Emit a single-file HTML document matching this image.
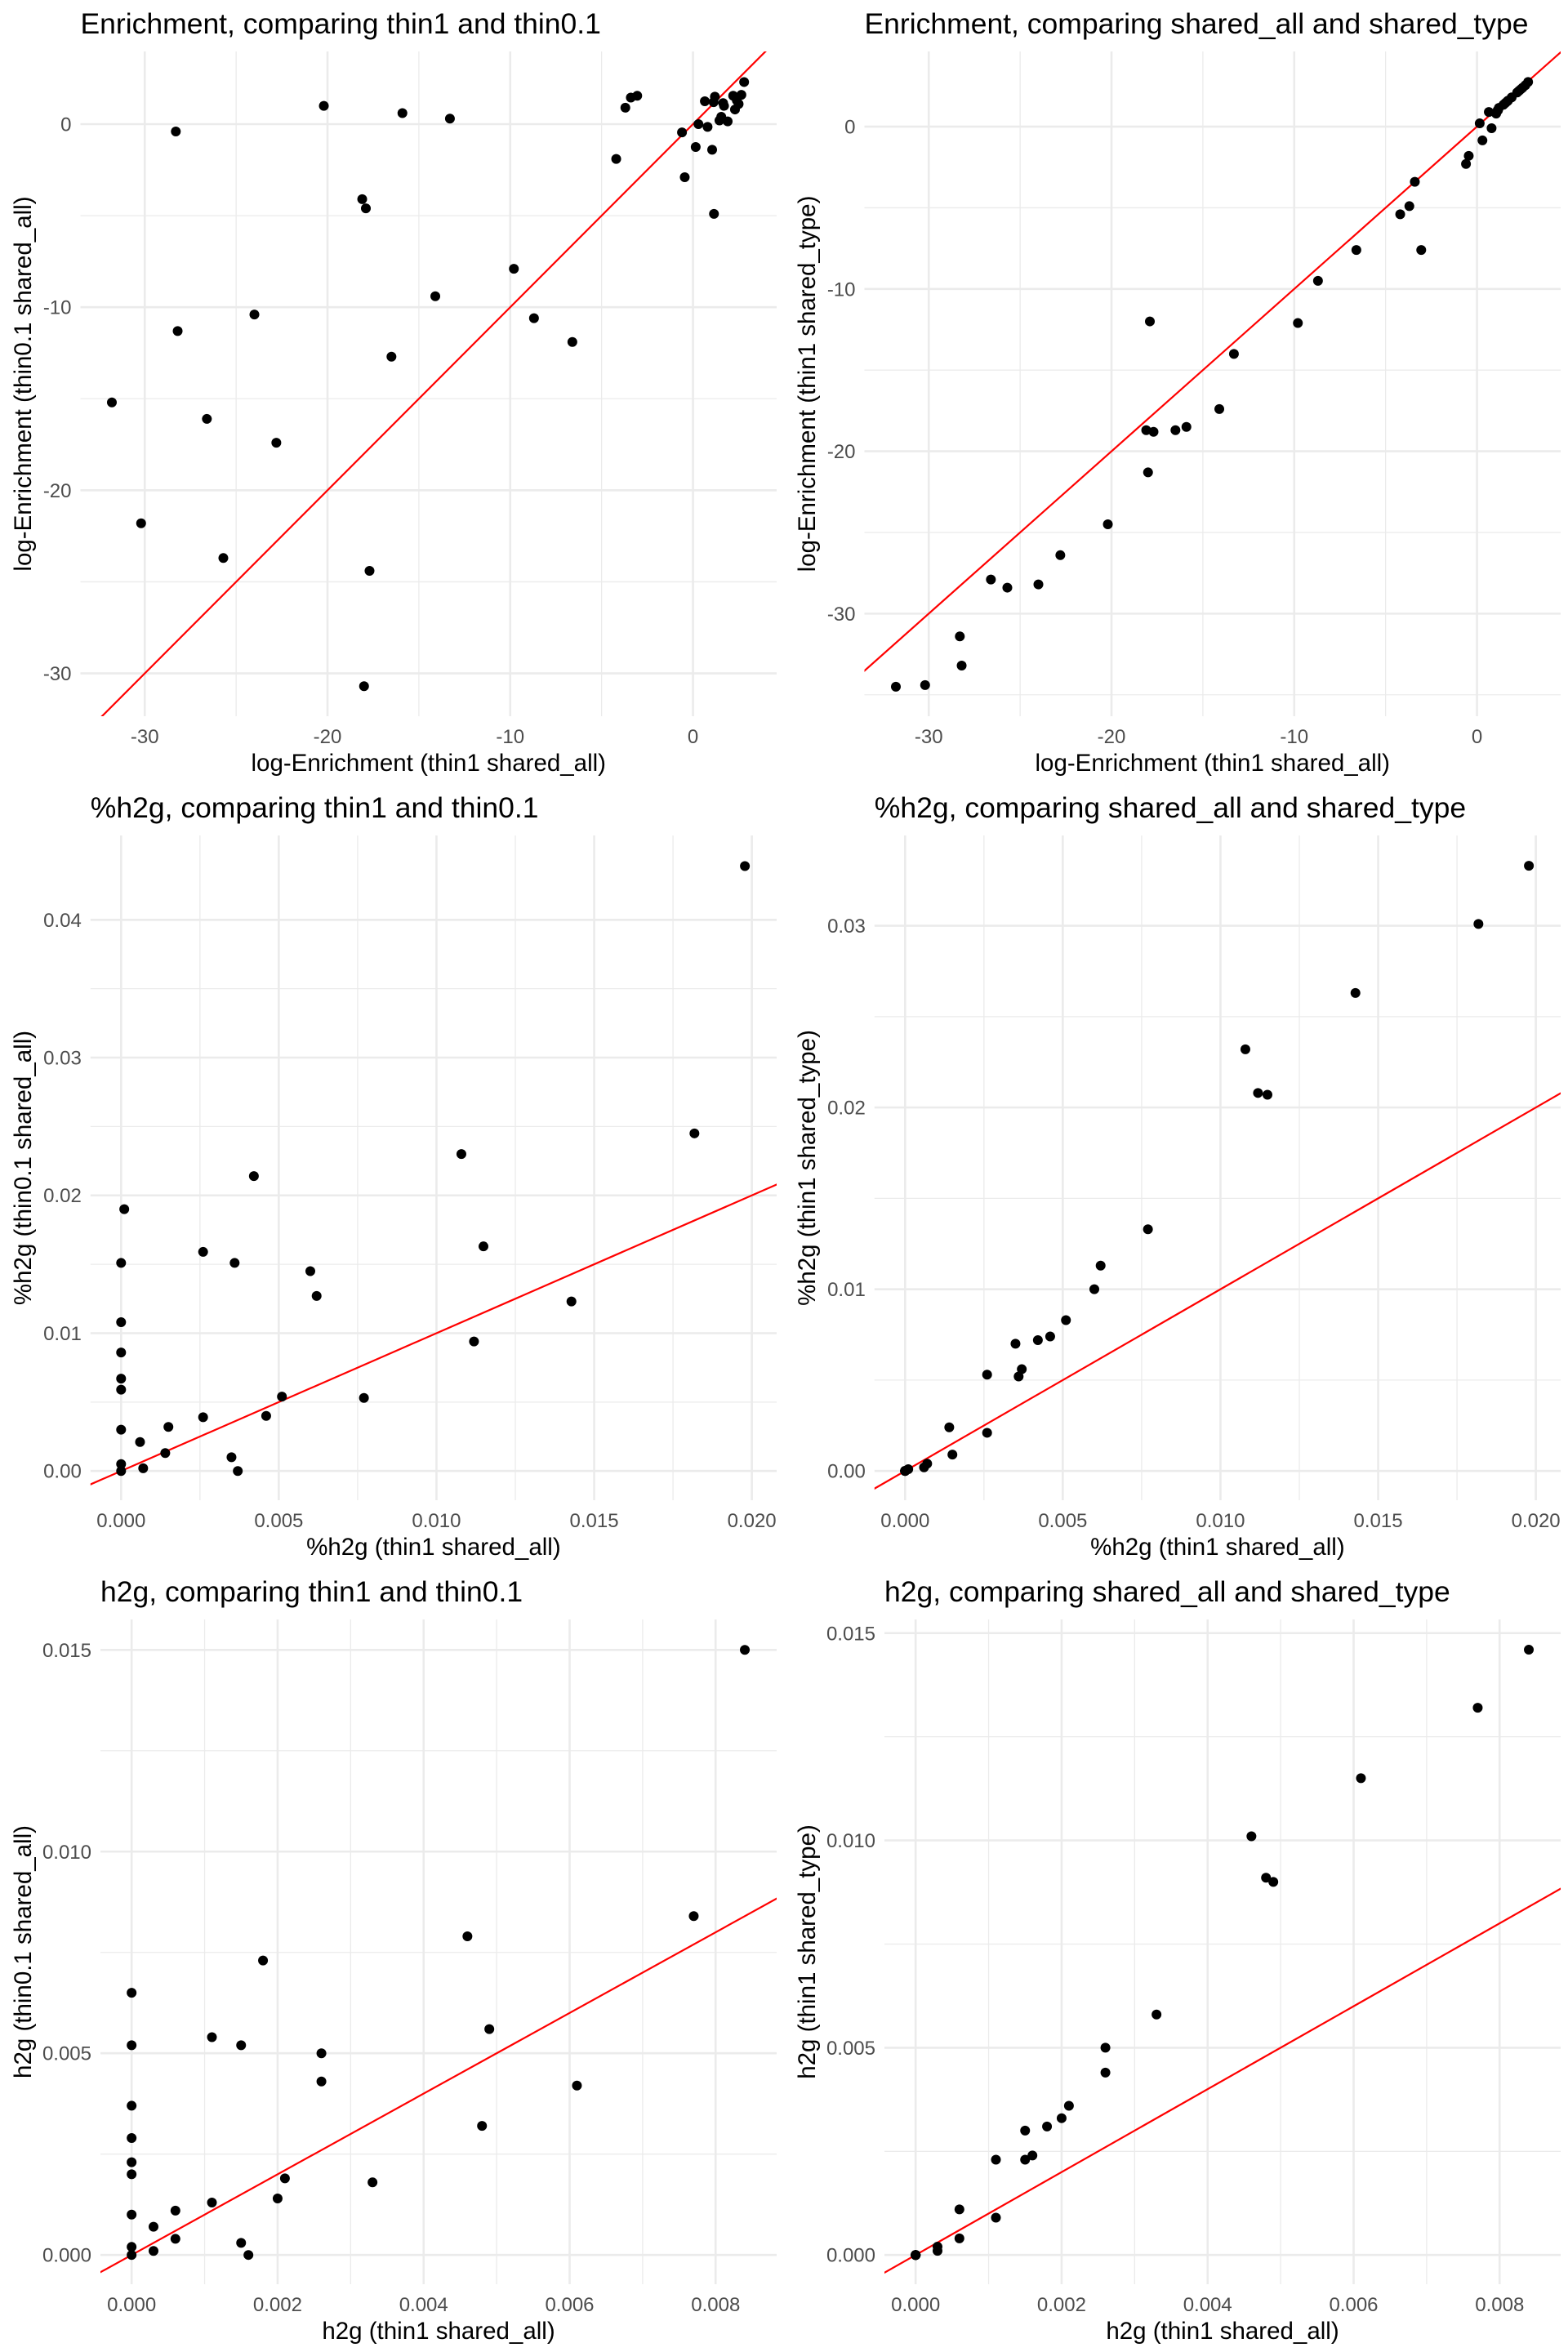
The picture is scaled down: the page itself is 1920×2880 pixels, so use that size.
<!DOCTYPE html>
<html><head><meta charset="utf-8"><style>
html,body{margin:0;padding:0;background:#fff;width:1920px;height:2880px;overflow:hidden}
svg{display:block}
text{font-family:"Liberation Sans",Arial,sans-serif}
</style></head><body>
<svg id="fig" width="1920" height="2880" viewBox="0 0 1920 2880" xmlns="http://www.w3.org/2000/svg"></svg>
<script>
// ---- Panel A: Enrichment thin1 vs thin0.1 ----
const enrichX = [-31.8,-30.2,-28.3,-28.2,-26.6,-25.7,-24.0,-22.8,-20.2,-18.1,-17.9,-18.0,-17.7,-16.5,-15.9,-14.1,-13.3,-9.8,-8.7,-6.6,-4.2,-3.7,-3.4,-3.05,-0.6,-0.45,0.15,0.3,0.65,0.8,1.05,1.15,1.13,1.2,1.45,1.55,1.65,1.7,1.9,2.2,2.3,2.4,2.5,2.65,2.8];
const enrichThin01 = [-15.2,-21.8,-0.4,-11.3,-16.1,-23.7,-10.4,-17.4,1.0,-4.1,-4.6,-30.7,-24.4,-12.7,0.6,-9.4,0.3,-7.9,-10.6,-11.9,-1.9,0.9,1.45,1.55,-0.45,-2.9,-1.25,0,1.25,-0.15,-1.4,-4.9,1.2,1.5,0.2,0.4,1.15,1.0,0.15,1.55,0.8,1.3,1.1,1.6,2.3];
// ---- Panel B: Enrichment shared_all vs shared_type ----
const enrichType = [-34.5,-34.4,-31.4,-33.2,-27.9,-28.4,-28.2,-26.4,-24.5,-18.7,-12.0,-21.3,-18.8,-18.7,-18.5,-17.4,-14.0,-12.1,-9.5,-7.6,-5.4,-4.9,-3.4,-7.6,-2.3,-1.8,0.2,-0.85,0.9,-0.1,0.8,1.0,1.0,1.15,1.35,1.45,1.55,1.6,1.8,2.1,2.2,2.3,2.4,2.55,2.75];
// ---- Panel C/D: %h2g ----
const pctX = [0.01978,0.01818,0.01079,0.01149,0.01428,0.01119,0.00421,0.0001,0,0.0026,0.0036,0.0060,0.0062,0,0,0,0,0.0051,0.0077,0.0026,0.0046,0,0.0015,0.0006,0.0014,0.0035,0.0007,0.0037,0,0];
const pctThin01 = [0.0439,0.0245,0.0230,0.0163,0.0123,0.0094,0.0214,0.0190,0.0151,0.0159,0.0151,0.0145,0.0127,0.0108,0.0086,0.0067,0.0059,0.0054,0.0053,0.0039,0.0040,0.0030,0.0032,0.0021,0.0013,0.0010,0.0002,0.0,0.0005,0];
const pctType = [0.0333,0.0301,0.0232,0.0207,0.0263,0.0208,0.0072,0.0001,0,0.0021,0.0052,0.0100,0.0113,0,0,0,0,0.0083,0.0133,0.0053,0.0074,0,0.0009,0.0002,0.0024,0.0070,0.0004,0.0056,0,0];
// ---- Panel E/F: h2g ----
const h2gX = [0.0084,0.0077,0.0046,0.0018,0,0.0049,0.0011,0.0015,0,0.0026,0.0026,0.0061,0,0,0,0,0.0048,0.0021,0.0033,0.0020,0.0011,0.0006,0,0.0003,0.0006,0.0015,0.0003,0,0.0016,0];
const h2gThin01 = [0.0150,0.0084,0.0079,0.0073,0.0065,0.0056,0.0054,0.0052,0.0052,0.0050,0.0043,0.0042,0.0037,0.0029,0.0023,0.0020,0.0032,0.0019,0.0018,0.0014,0.0013,0.0011,0.0010,0.0007,0.0004,0.0003,0.0001,0.0002,0,0];
const h2gType = [0.0146,0.0132,0.0101,0.0031,0,0.0090,0.0009,0.0023,0,0.0050,0.0044,0.0115,0,0,0,0,0.0091,0.0036,0.0058,0.0033,0.0023,0.0011,0,0.0002,0.0004,0.0030,0.0001,0,0.0024,0];

const enrichXTicks = [-30,-20,-10,0], enrichXMinor = [-25,-15,-5];
const enrichYTicksA = [0,-10,-20,-30], enrichYMinorA = [-5,-15,-25];
const enrichYTicksB = [0,-10,-20,-30], enrichYMinorB = [-5,-15,-25,-35];
const pctXTicks = [0,0.005,0.01,0.015,0.02], pctXLabels = ["0.000","0.005","0.010","0.015","0.020"], pctXMinor = [0.0025,0.0075,0.0125,0.0175];
const pctYTicksC = [0,0.01,0.02,0.03,0.04], pctYLabelsC = ["0.00","0.01","0.02","0.03","0.04"], pctYMinorC = [0.005,0.015,0.025,0.035];
const pctYTicksD = [0,0.01,0.02,0.03], pctYLabelsD = ["0.00","0.01","0.02","0.03"], pctYMinorD = [0.005,0.015,0.025];
const h2gXTicks = [0,0.002,0.004,0.006,0.008], h2gXLabels = ["0.000","0.002","0.004","0.006","0.008"], h2gXMinor = [0.001,0.003,0.005,0.007];
const h2gYTicks = [0,0.005,0.01,0.015], h2gYLabels = ["0.000","0.005","0.010","0.015"], h2gYMinor = [0.0025,0.0075,0.0125];

const NS = "http://www.w3.org/2000/svg";
const fig = document.getElementById('fig');
function mk(tag, attrs, parent){const e=document.createElementNS(NS,tag);for(const k in attrs)e.setAttribute(k,attrs[k]);parent.appendChild(e);return e;}

const panels = [
 {ox:0,oy:0,name:'enrichment-thin',title:'Enrichment, comparing thin1 and thin0.1',xt:'log-Enrichment (thin1 shared_all)',yt:'log-Enrichment (thin0.1 shared_all)',
  left:98.5,xd:[-33.52,4.58],yd:[-32.34,3.97],xs:enrichX,ys:enrichThin01,xT:enrichXTicks,xL:enrichXTicks.map(String),xM:enrichXMinor,yT:enrichYTicksA,yL:enrichYTicksA.map(String),yM:enrichYMinorA},
 {ox:960,oy:0,name:'enrichment-type',title:'Enrichment, comparing shared_all and shared_type',xt:'log-Enrichment (thin1 shared_all)',yt:'log-Enrichment (thin1 shared_type)',
  left:98.5,xd:[-33.52,4.58],yd:[-36.32,4.63],xs:enrichX,ys:enrichType,xT:enrichXTicks,xL:enrichXTicks.map(String),xM:enrichXMinor,yT:enrichYTicksB,yL:enrichYTicksB.map(String),yM:enrichYMinorB},
 {ox:0,oy:960,name:'pct-h2g-thin',title:'%h2g, comparing thin1 and thin0.1',xt:'%h2g (thin1 shared_all)',yt:'%h2g (thin0.1 shared_all)',
  left:110.8,xd:[-0.000971,0.020787],yd:[-0.00212,0.04612],xs:pctX,ys:pctThin01,xT:pctXTicks,xL:pctXLabels,xM:pctXMinor,yT:pctYTicksC,yL:pctYLabelsC,yM:pctYMinorC},
 {ox:960,oy:960,name:'pct-h2g-type',title:'%h2g, comparing shared_all and shared_type',xt:'%h2g (thin1 shared_all)',yt:'%h2g (thin1 shared_type)',
  left:110.8,xd:[-0.000971,0.020787],yd:[-0.00161,0.03497],xs:pctX,ys:pctType,xT:pctXTicks,xL:pctXLabels,xM:pctXMinor,yT:pctYTicksD,yL:pctYLabelsD,yM:pctYMinorD},
 {ox:0,oy:1920,name:'h2g-thin',title:'h2g, comparing thin1 and thin0.1',xt:'h2g (thin1 shared_all)',yt:'h2g (thin0.1 shared_all)',
  left:123,xd:[-0.000427,0.008836],yd:[-0.000725,0.015755],xs:h2gX,ys:h2gThin01,xT:h2gXTicks,xL:h2gXLabels,xM:h2gXMinor,yT:h2gYTicks,yL:h2gYLabels,yM:h2gYMinor},
 {ox:960,oy:1920,name:'h2g-type',title:'h2g, comparing shared_all and shared_type',xt:'h2g (thin1 shared_all)',yt:'h2g (thin1 shared_type)',
  left:123,xd:[-0.000427,0.008836],yd:[-0.000705,0.015330],xs:h2gX,ys:h2gType,xT:h2gXTicks,xL:h2gXLabels,xM:h2gXMinor,yT:h2gYTicks,yL:h2gYLabels,yM:h2gYMinor}
];

panels.forEach((p,pi)=>{
  const g = mk('g',{transform:`translate(${p.ox},${p.oy})`},fig);
  
  
  const L=p.left,R=951,T=63,B=877;
  const sx=v=>L+(v-p.xd[0])/(p.xd[1]-p.xd[0])*(R-L);
  const sy=v=>B-(v-p.yd[0])/(p.yd[1]-p.yd[0])*(B-T);
  const grid = mk('g',{},g);
  
  
  p.xM.forEach(v=>mk('line',{x1:sx(v),x2:sx(v),y1:T,y2:B,stroke:'#ebebeb','stroke-width':1.3},grid));
  p.yM.forEach(v=>{const y=sy(v); if(y>=T&&y<=B) mk('line',{x1:L,x2:R,y1:y,y2:y,stroke:'#ebebeb','stroke-width':1.3},grid);});
  p.xT.forEach(v=>mk('line',{x1:sx(v),x2:sx(v),y1:T,y2:B,stroke:'#ebebeb','stroke-width':2.6},grid));
  p.yT.forEach(v=>mk('line',{x1:L,x2:R,y1:sy(v),y2:sy(v),stroke:'#ebebeb','stroke-width':2.6},grid));
  p.xT.forEach((v,i)=>{const t=mk('text',{x:sx(v),y:910,'text-anchor':'middle','font-size':24,fill:'#4d4d4d'},g);t.textContent=p.xL[i];
    
    });
  p.yT.forEach((v,i)=>{const t=mk('text',{x:L-11,y:sy(v)+8.5,'text-anchor':'end','font-size':24,fill:'#4d4d4d'},g);t.textContent=p.yL[i];
    
    });
  const cid='clip'+pi;
  const cp=mk('clipPath',{id:cid},g); mk('rect',{x:L,y:T,width:R-L,height:B-T},cp);
  const a=Math.min(p.xd[0],p.yd[0])-1, b=Math.max(p.xd[1],p.yd[1])+1;
  const ln=mk('line',{x1:sx(a),y1:sy(a),x2:sx(b),y2:sy(b),stroke:'#ff0000','stroke-width':2.2,'clip-path':`url(#${cid})`},g);
  
  
  const pts=mk('g',{},g);
  
  
  p.xs.forEach((x,i)=>{const c=mk('circle',{cx:sx(x),cy:sy(p.ys[i]),r:6,fill:'#000'},pts);
    
    });
  const tt=mk('text',{x:L,y:41,'font-size':35.5,fill:'#000'},g);tt.textContent=p.title;
  
  
  const xt=mk('text',{x:(L+R)/2,y:944,'text-anchor':'middle','font-size':29.5,fill:'#000'},g);xt.textContent=p.xt;
  
  
  const yc=(T+B)/2;
  const yt=mk('text',{x:0,y:0,'text-anchor':'middle','font-size':29.5,fill:'#000',transform:`translate(38,${yc}) rotate(-90)`},g);yt.textContent=p.yt;
  
  
});
</script>
</body></html>
